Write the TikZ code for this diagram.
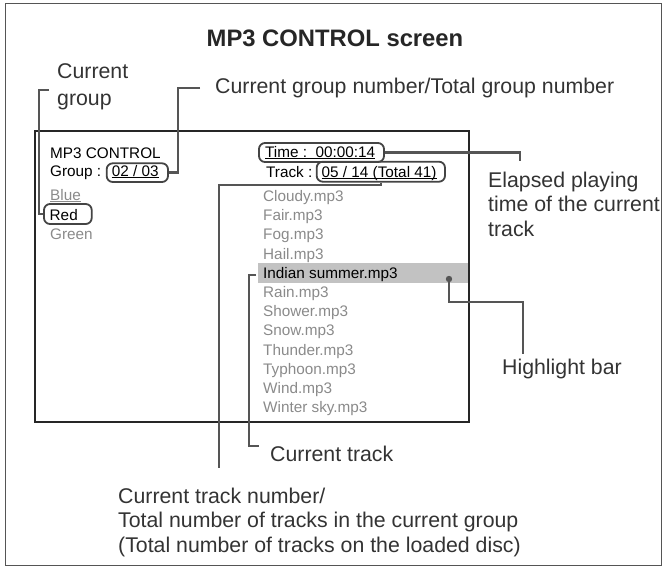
\documentclass[tikz,border=0pt]{standalone}
\usepackage{fontspec}
\setmainfont{Liberation Sans}
\usetikzlibrary{calc}
\definecolor{lgray}{HTML}{555555}
\definecolor{bgray}{HTML}{444444}
\definecolor{ltext}{HTML}{333333}
\definecolor{dimgray}{HTML}{8A8A8A}
\definecolor{hlgray}{HTML}{C2C2C2}
\begin{document}
\begin{tikzpicture}[x=1pt,y=-1pt,
  conn/.style={draw=lgray, line width=2.4pt},
  rbox/.style={draw=bgray, line width=1.8pt, rounded corners=6pt, inner sep=0pt},
  lbl/.style={anchor=base west, inner sep=0pt, text=ltext, font=\fontsize{21.3}{25}\selectfont},
  scr/.style={anchor=base west, inner sep=0pt, font=\fontsize{15.3}{18}\selectfont},
  dim/.style={scr, text=dimgray},
  uline/.style={line width=0.7pt},
]
\useasboundingbox (0,0) rectangle (662,566);
% outer frame
\draw[draw=lgray, line width=1pt] (5,3) rectangle (661,565);
% title
\node[anchor=base, inner sep=0pt, font=\fontsize{23.8}{28}\selectfont\bfseries, text=black!85] (title) at (335,46) {MP3 CONTROL screen};
% highlight bar
\node[fill=hlgray, inner sep=0pt, minimum width=210pt, minimum height=19.7pt] (hlbar) at (363,272.85) {};
% screen
\draw[draw=black!85, line width=1.3pt] (35,131) rectangle (469,422);
% left column
\node[scr] (mp3) at (50,158) {MP3 CONTROL};
\node[scr] (grp) at (50,176.5) {Group :};
\node[scr] (grpval) at (111.7,176.5) {02 / 03};
\node[dim] (blue) at (50,200.5) {Blue};
\node[scr] (red) at (49.5,220) {Red};
\node[dim] (green) at (50,239.5) {Green};
% right column
\node[scr] (time) at (265,157.5) {Time :\ \ 00:00:14};
\node[scr] (track) at (266,177) {Track :};
\node[scr] (trackval) at (321.5,177) {05 / 14 (Total 41)};
\node[dim] (f1) at (263,201.5) {Cloudy.mp3};
\node[dim] (f2) at (263,220.7) {Fair.mp3};
\node[dim] (f3) at (263,239.9) {Fog.mp3};
\node[dim] (f4) at (263,259.1) {Hail.mp3};
\node[scr] (f5) at (263,278.3) {Indian summer.mp3};
\node[dim] (f6) at (263,297.5) {Rain.mp3};
\node[dim] (f7) at (263,316.7) {Shower.mp3};
\node[dim] (f8) at (263,335.9) {Snow.mp3};
\node[dim] (f9) at (263,355.1) {Thunder.mp3};
\node[dim] (f10) at (263,374.3) {Typhoon.mp3};
\node[dim] (f11) at (263,393.5) {Wind.mp3};
\node[dim] (f12) at (263,412.7) {Winter sky.mp3};
% underlines
\draw[uline, draw=dimgray] ($(blue.base west)+(0,1.3)$) -- ($(blue.base east)+(0,1.3)$);
\draw[uline] ($(grpval.base west)+(0,1.3)$) -- ($(grpval.base east)+(0,1.3)$);
\draw[uline] ($(time.base west)+(0,1.3)$) -- ($(time.base east)+(0,1.3)$);
\draw[uline] ($(trackval.base west)+(0,1.3)$) -- ($(trackval.base east)+(0,1.3)$);
% rounded boxes
\node[rbox, minimum width=47.7pt, minimum height=20pt] (redbox) at (67.85,214) {};
\node[rbox, minimum width=61.3pt, minimum height=18.7pt] (grpbox) at (137.35,172.65) {};
\node[rbox, minimum width=125pt, minimum height=19pt] (timebox) at (321.5,152.5) {};
\node[rbox, minimum width=128.3pt, minimum height=20pt] (trackbox) at (380.85,171.7) {};
% labels
\node[lbl] (lcg1) at (57,78) {Current};
\node[lbl] (lcg2) at (57,105) {group};
\node[lbl] (lgn) at (215,93) {Current group number/Total group number};
\node[lbl] (lel1) at (488,187) {Elapsed playing};
\node[lbl] (lel2) at (488,211.5) {time of the current};
\node[lbl] (lel3) at (488,236) {track};
\node[lbl] (lhl) at (502,374) {Highlight bar};
\node[lbl] (lct) at (270,461) {Current track};
\node[lbl] (ln1) at (118,503) {Current track number/};
\node[lbl] (ln2) at (118,527.5) {Total number of tracks in the current group};
\node[lbl] (ln3) at (118,552) {(Total number of tracks on the loaded disc)};
% connectors
\coordinate (cg1) at (49,90);
\draw[conn] (cg1) -- (39,90) |- (redbox.west);
\coordinate (gn1) at (200,88);
\draw[conn] (gn1) -- (178,88) |- (grpbox.east);
\coordinate (elend) at (520,161);
\draw[conn] (timebox.east) -| (elend);
\coordinate (ctnend) at (219,468);
\draw[conn] (trackbox.south) -- ++(0,2.5) -| (ctnend);
\coordinate (ct1) at (256,275);
\coordinate (ct2) at (259,446);
\draw[conn] (ct1) -- (249,275) -- (249,446) -- (ct2);
\fill[lgray] (449,279) circle (3.2pt) coordinate (hldot);
\coordinate (hlend) at (523,354);
\draw[conn] (hldot) -- (449,302) -| (hlend);
\end{tikzpicture}
\end{document}
